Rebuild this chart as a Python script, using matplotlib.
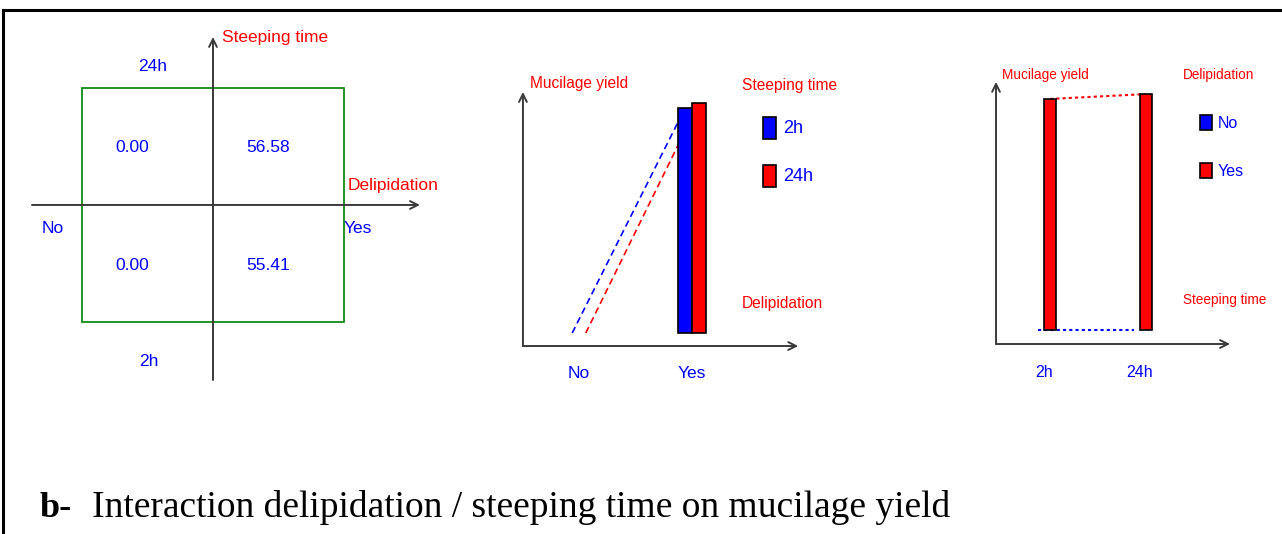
import numpy as np
import matplotlib
matplotlib.use("Agg")
import matplotlib.pyplot as plt
from matplotlib import font_manager
from matplotlib.lines import Line2D
from matplotlib.patches import Rectangle

# Mucilage yield by delipidation (No, Yes) for each steeping time
delipidation = ["No", "Yes"]
steeping = ["2h", "24h"]
yield_2h = [0.00, 55.41]
yield_24h = [0.00, 56.58]

BLUE = "#0000ff"
RED = "#ff0000"
GREEN = "#008000"
AXIS = "#3a3a3a"

names = {f.name for f in font_manager.fontManager.ttflist}
SANS = "Liberation Sans"
NARROW = "Liberation Sans Narrow" if "Liberation Sans Narrow" in names else SANS
SERIF = "Liberation Serif"

W, H = 1282, 534
fig = plt.figure(figsize=(W / 100, H / 100), dpi=100)


def panel(x0, y0, x1, y1, xlim, ylim):
    # axes placed by pixel box (top-left origin)
    ax = fig.add_axes([x0 / W, 1 - y1 / H, (x1 - x0) / W, (y1 - y0) / H])
    ax.set_xlim(*xlim)
    ax.set_ylim(*ylim)
    ax.set_axis_off()
    return ax


def arrow(ax, start, end):
    ax.annotate("", xy=end, xytext=start,
                arrowprops=dict(arrowstyle="->", color=AXIS, lw=1.4,
                                shrinkA=0, shrinkB=0, mutation_scale=14))


# ---- left: 2x2 interaction square ----
ax1 = panel(0, 20, 450, 400, (-1.632, 1.816), (-1.667, 1.581))
ax1.add_patch(Rectangle((-1, -1), 2, 2, fill=False, edgecolor=GREEN, lw=1.2))
arrow(ax1, (-1.387, 0), (1.586, 0))
arrow(ax1, (0, -1.496), (0, 1.436))

cell_x = [-0.62, 0.42]
cell_y = {"2h": -0.52, "24h": 0.49}
for st, vals in zip(steeping, [yield_2h, yield_24h]):
    for cx, v in zip(cell_x, vals):
        ax1.text(cx, cell_y[st], f"{v:.2f}", color=BLUE, fontsize=12.5,
                 family=SANS, ha="center", va="center")

ax1.text(-0.46, 1.18, steeping[1], color=BLUE, fontsize=12.5, family=SANS, ha="center", va="center")
ax1.text(-0.49, -1.34, steeping[0], color=BLUE, fontsize=12.5, family=SANS, ha="center", va="center")
ax1.text(-1.23, -0.205, delipidation[0], color=BLUE, fontsize=12.5, family=SANS, ha="center", va="center")
ax1.text(1.0, -0.205, delipidation[1], color=BLUE, fontsize=12.5, family=SANS, ha="left", va="center")
ax1.text(0.07, 1.43, "Steeping time", color=RED, fontsize=12.5, family=SANS, ha="left", va="center")
ax1.text(1.03, 0.17, "Delipidation", color=RED, fontsize=12.5, family=SANS, ha="left", va="center")

# ---- middle: yield vs delipidation, grouped by steeping time ----
ax2 = panel(500, 50, 850, 400, (-0.699, 2.398), (-16.48, 69.62))
x = np.arange(len(delipidation))
off, bw = 0.06, 0.12
for vals, dx, col in [(yield_2h, -off, BLUE), (yield_24h, off, RED)]:
    v = np.array(vals)
    ax2.plot(x + dx, v, color=col, lw=1.2, ls=(0, (4, 2.5)), zorder=1)
    keep = v > 0
    ax2.bar(x[keep] + dx, v[keep], width=bw, color=col, edgecolor="black",
            lw=1.2, zorder=2)
arrow(ax2, (-0.496, -3.2), (-0.496, 59.3))
arrow(ax2, (-0.496, -3.2), (1.94, -3.2))
for xi, lab in zip(x, delipidation):
    ax2.text(xi, -9.84, lab, color=BLUE, fontsize=12.5, family=NARROW, ha="center", va="center")
ax2.text(-0.434, 61.5, "Mucilage yield", color=RED, fontsize=11.2, family=NARROW, ha="left", va="center")
ax2.text(1.442, 61.0, "Steeping time", color=RED, fontsize=11.2, family=NARROW, ha="left", va="center")
ax2.text(1.442, 7.38, "Delipidation", color=RED, fontsize=11.2, family=NARROW, ha="left", va="center")
for lab, col, yb in [(steeping[0], BLUE, 47.7), (steeping[1], RED, 35.9)]:
    ax2.add_patch(Rectangle((1.628, yb), 0.115, 5.41, facecolor=col, edgecolor="black", lw=1.2))
    ax2.text(1.805, yb + 2.7, lab, color=BLUE, fontsize=13, family=NARROW, ha="left", va="center")

# ---- right: yield vs steeping time, grouped by delipidation ----
ax3 = panel(970, 50, 1282, 400, (-0.771, 2.479), (-16.79, 67.15))
xs = np.arange(len(steeping))
no_vals = np.array([yield_2h[0], yield_24h[0]])
yes_vals = np.array([yield_2h[1], yield_24h[1]])
off3, bw3 = 0.0625, 0.125
for v, dx, col in [(no_vals, -off3, BLUE), (yes_vals, off3, RED)]:
    ax3.plot(xs + dx, v, color=col, lw=1.5, ls=(0, (1.5, 1.5)), zorder=1)
    keep = v > 0
    ax3.bar(xs[keep] + dx, v[keep], width=bw3, color=col, edgecolor="black",
            lw=1.2, zorder=2)
arrow(ax3, (-0.5, -3.36), (-0.5, 59.5))
arrow(ax3, (-0.5, -3.36), (1.9375, -3.36))
for xi, lab in zip(xs, steeping):
    ax3.text(xi, -10.3, lab, color=BLUE, fontsize=11.5, family=NARROW, ha="center", va="center")
ax3.text(-0.4375, 61.2, "Mucilage yield", color=RED, fontsize=9.8, family=NARROW, ha="left", va="center")
ax3.text(1.448, 61.2, "Delipidation", color=RED, fontsize=9.8, family=NARROW, ha="left", va="center")
ax3.text(1.448, 7.19, "Steeping time", color=RED, fontsize=9.8, family=NARROW, ha="left", va="center")
for lab, col, yb in [(delipidation[0], BLUE, 47.96), (delipidation[1], RED, 36.45)]:
    ax3.add_patch(Rectangle((1.625, yb), 0.125, 3.7, facecolor=col, edgecolor="black", lw=1.2))
    ax3.text(1.8125, yb + 1.6, lab, color=BLUE, fontsize=11.5, family=NARROW, ha="left", va="center")

# ---- frame and caption ----
fig.add_artist(Line2D([3 / W, 1], [1 - 10 / H, 1 - 10 / H], color="black", lw=2.2))
fig.add_artist(Line2D([3 / W, 3 / W], [0, 1 - 10 / H], color="black", lw=2.2))
fig.text(40 / W, 1 - 517 / H, "b-", family=SERIF, fontweight="bold", fontsize=26,
         ha="left", va="baseline")
fig.text(92 / W, 1 - 517 / H, "Interaction delipidation / steeping time on mucilage yield",
         family=SERIF, fontsize=27, ha="left", va="baseline")

fig.savefig("out.png", dpi=100)
